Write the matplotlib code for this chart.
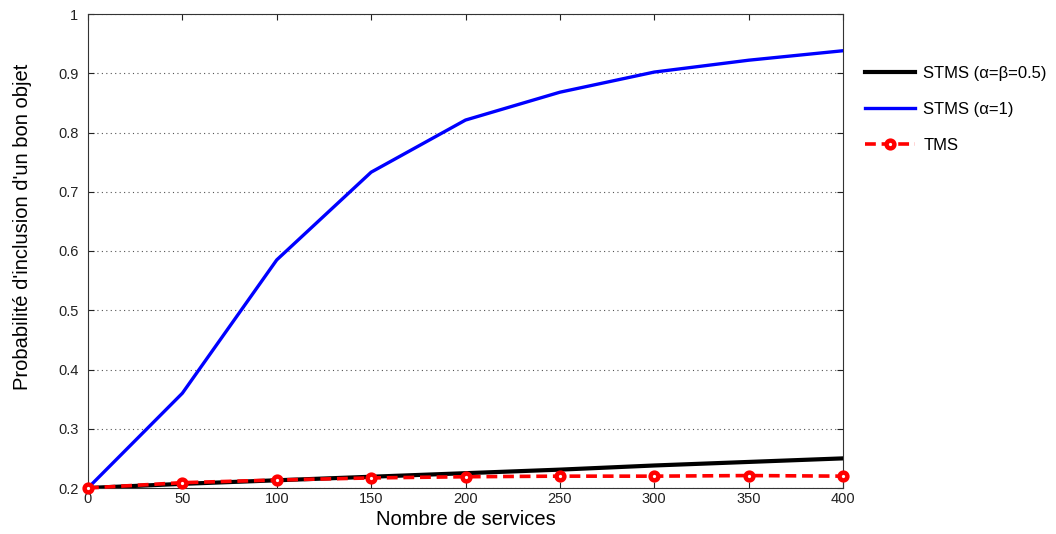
import matplotlib
matplotlib.use("Agg")
import matplotlib.pyplot as plt

plt.rcParams['font.family'] = ['Liberation Sans', 'DejaVu Sans']

services = [0, 50, 100, 150, 200, 250, 300, 350, 400]
stms_half = [0.200, 0.207, 0.213, 0.219, 0.225, 0.231, 0.238, 0.244, 0.250]
stms_alpha1 = [0.200, 0.360, 0.585, 0.733, 0.821, 0.868, 0.902, 0.922, 0.938]
tms = [0.200, 0.209, 0.2135, 0.217, 0.219, 0.220, 0.220, 0.221, 0.220]

x_ticks = [0, 50, 100, 150, 200, 250, 300, 350, 400]
y_ticks = [0.2, 0.3, 0.4, 0.5, 0.6, 0.7, 0.8, 0.9, 1.0]
y_labels = ['0.2', '0.3', '0.4', '0.5', '0.6', '0.7', '0.8', '0.9', '1']

fig = plt.figure(figsize=(10.56, 5.34), dpi=100)
ax = fig.add_axes([88/1056, 46/534, 755/1056, 474/534])

l1, = ax.plot(services, stms_half, color='black', lw=3.0,
              label='STMS (\u03b1=\u03b2=0.5)', zorder=3)
l2, = ax.plot(services, stms_alpha1, color='#0000ff', lw=2.4,
              label='STMS (\u03b1=1)', zorder=3)
l3, = ax.plot(services, tms, color='#ff0000', lw=2.6, ls=(0, (3, 1.6)),
              marker='o', markersize=5.6, markerfacecolor='white',
              markeredgecolor='#ff0000', markeredgewidth=3.2,
              label='TMS', zorder=4, clip_on=False)

ax.set_xlim(0, 400)
ax.set_ylim(0.2, 1.0)
ax.set_xticks(x_ticks)
ax.set_yticks(y_ticks)
ax.set_yticklabels(y_labels)
ax.tick_params(direction='in', top=True, right=True, length=4,
               labelsize=10.5, colors='#222222')
ax.tick_params(axis='y', pad=7)
ax.tick_params(axis='x', pad=3)
ax.yaxis.grid(True, linestyle=(0, (1, 3)), color='#555555', lw=0.8)
for s in ax.spines.values():
    s.set_color('#333333')
    s.set_linewidth(0.8)

ax.set_xlabel('Nombre de services', fontsize=14.5, labelpad=3)
ax.set_ylabel("Probabilit\u00e9 d'inclusion d'un bon objet", fontsize=14.5)
ax.yaxis.set_label_coords(-56/755, 0.55)

fig.legend(handles=[l1, l2, l3], loc='upper left',
           bbox_to_anchor=(850/1056, 1 - 51/534), frameon=False,
           fontsize=12, handlelength=3.0, labelspacing=1.25,
           handletextpad=0.5)

fig.savefig('out.png', dpi=100, facecolor='white')
